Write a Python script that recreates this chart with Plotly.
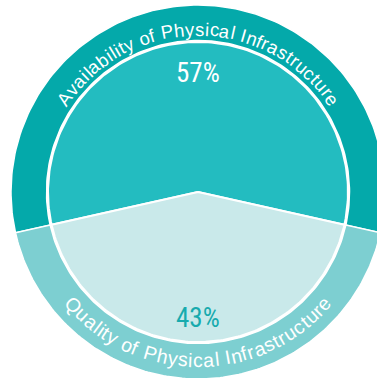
import math
import plotly.graph_objects as go

# Shares of the two infrastructure dimensions
categories = ["Availability of Physical Infrastructure", "Quality of Physical Infrastructure"]
shares = [57, 43]

slice_colors = ["#23bcc0", "#c9e9ea"]
ring_colors = ["#04a9aa", "#7dcfd1"]
pct_colors = ["#ffffff", "#17abae"]

R_PIE = 150
R_RING_IN = 151.5
R_RING_OUT = 187

# Advance widths (per 1000 em) for Arial-metric sans serif
ADV = {"A": 667, "Q": 778, "P": 667, "I": 278, "a": 556, "b": 556, "c": 500,
       "e": 556, "f": 278, "h": 556, "i": 222, "l": 222, "n": 556, "o": 556,
       "r": 333, "s": 500, "t": 278, "u": 556, "v": 500, "y": 500, " ": 278}


def arc(r, a0, a1, n=160):
    pts = []
    for i in range(n + 1):
        a = math.radians(a0 + (a1 - a0) * i / n)
        pts.append((r * math.cos(a), r * math.sin(a)))
    return pts


fig = go.Figure()

total = sum(shares)
start = 90 + shares[0] / total * 180  # first slice centred at the top
spans = []
a = start
for s in shares:
    span = s / total * 360
    spans.append((a, a - span))
    a -= span

for (a0, a1), pc, rc in zip(spans, slice_colors, ring_colors):
    # outer ring segment
    pts = arc(R_RING_OUT, a0, a1) + arc(R_RING_IN, a1, a0)
    pts.append(pts[0])
    fig.add_trace(go.Scatter(x=[p[0] for p in pts], y=[p[1] for p in pts],
                             mode="lines", fill="toself", fillcolor=rc,
                             line=dict(color="white", width=1.5), hoverinfo="skip"))
    # inner pie slice
    pts = [(0, 0)] + arc(R_PIE, a0, a1) + [(0, 0)]
    fig.add_trace(go.Scatter(x=[p[0] for p in pts], y=[p[1] for p in pts],
                             mode="lines", fill="toself", fillcolor=pc,
                             line=dict(color="white", width=2), hoverinfo="skip"))

# percentage labels at the middle of each slice
label_r = [119, 126]
for (a0, a1), s, col, r in zip(spans, shares, pct_colors, label_r):
    mid = math.radians((a0 + a1) / 2)
    fig.add_annotation(x=r * math.cos(mid), y=r * math.sin(mid),
                       text=f"{round(s / total * 100)}%", showarrow=False,
                       font=dict(family="Roboto Condensed, Liberation Sans Narrow, DejaVu Sans Condensed, sans-serif",
                                 size=27, color=col),
                       xanchor="center", yanchor="middle")


def curved_text(text, r_mid, mid_deg, size, spacing, top):
    adv = [ADV[c] * size / 1000 + spacing for c in text]
    length = sum(adv) - spacing
    pos = -length / 2
    for c, w in zip(text, adv):
        centre = pos + (w - spacing) / 2
        pos += w
        if c == " ":
            continue
        d = math.degrees(centre / r_mid)
        if top:
            theta = mid_deg - d
            rot = 90 - theta
        else:
            theta = mid_deg + d
            rot = -90 - theta
        t = math.radians(theta)
        fig.add_annotation(x=r_mid * math.cos(t), y=r_mid * math.sin(t), text=c,
                           textangle=rot, showarrow=False, xanchor="center", yanchor="middle",
                           font=dict(family="Liberation Sans, Arial, sans-serif", size=size, color="white"))


for (a0, a1), name, is_top in zip(spans, categories, [True, False]):
    mid = (a0 + a1) / 2
    if is_top:
        curved_text(name, 163, mid, 18.5, 0.75, True)
    else:
        curved_text(name, 168, mid, 19.5, 0.45, False)

fig.update_layout(
    width=377, height=378,
    margin=dict(l=0, r=0, t=0, b=0),
    paper_bgcolor="white", plot_bgcolor="white",
    showlegend=False,
    xaxis=dict(range=[-198, 179], visible=False, fixedrange=True),
    yaxis=dict(range=[-186, 192], visible=False, fixedrange=True),
)

fig.write_html("out.html", config={"displayModeBar": False})
